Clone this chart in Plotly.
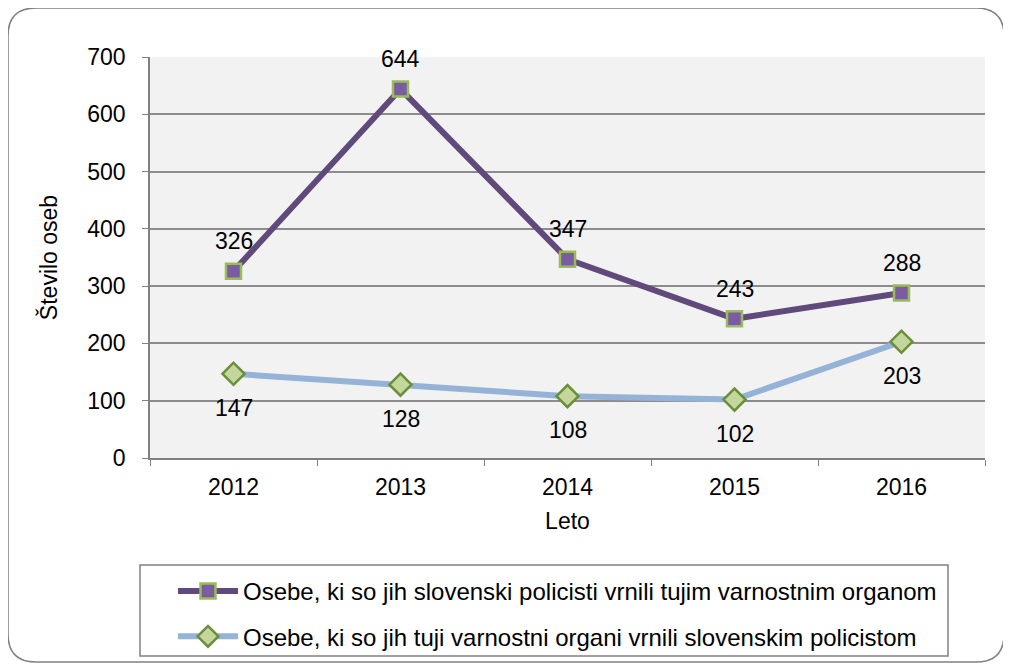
import plotly.graph_objects as go

years = ["2012", "2013", "2014", "2015", "2016"]
vrnili_tujim = [326, 644, 347, 243, 288]
vrnili_slovenskim = [147, 128, 108, 102, 203]

name1 = "Osebe, ki so jih slovenski policisti vrnili tujim varnostnim organom"
name2 = "Osebe, ki so jih tuji varnostni organi vrnili slovenskim policistom"

FS = 23

fig = go.Figure()

fig.add_trace(go.Scatter(
    x=years, y=vrnili_tujim, name=name1, legendgroup="a",
    mode="lines+markers",
    line=dict(color="#604a7b", width=6),
    marker=dict(symbol="square", size=15, color="#7a5ca0",
                line=dict(color="#9bbb59", width=2.5)),
))

fig.add_trace(go.Scatter(
    x=years, y=vrnili_slovenskim, name=name2, legendgroup="b",
    mode="lines+markers",
    line=dict(color="#95b3d7", width=6),
    marker=dict(symbol="diamond", size=17, color="#c3d69b",
                line=dict(color="#6b8e3a", width=2.5)),
))

# data labels: first series above, second below (x as category index)
for i, v in enumerate(vrnili_tujim):
    fig.add_annotation(x=i, y=v, text=str(v), showarrow=False, yshift=30,
                       font=dict(size=FS, color="#000000"))
for i, v in enumerate(vrnili_slovenskim):
    fig.add_annotation(x=i, y=v, text=str(v), showarrow=False, yshift=-34,
                       font=dict(size=FS, color="#000000"))

# reference pixel frame of the plot area (page is shown with an 8px body offset)
L, R, T, B = 150, 985, 57, 458
OFF = 8
def px(x): return (x - L) / (R - L)
def py(y): return (B - y) / (B - T)

x0, x1, y0, y1, r = 8, 1004, 8, 662, 28
path = (f"M {px(x0 + r)},{py(y0)} L {px(x1 - r)},{py(y0)} "
        f"Q {px(x1)},{py(y0)} {px(x1)},{py(y0 + r)} "
        f"L {px(x1)},{py(y1 - r)} Q {px(x1)},{py(y1)} {px(x1 - r)},{py(y1)} "
        f"L {px(x0 + r)},{py(y1)} Q {px(x0)},{py(y1)} {px(x0)},{py(y1 - r)} "
        f"L {px(x0)},{py(y0 + r)} Q {px(x0)},{py(y0)} {px(x0 + r)},{py(y0)} Z")

fig.update_layout(
    width=1011, height=670,
    margin=dict(l=L - OFF, r=1011 - (R - OFF), t=T - OFF, b=670 - (B - OFF)),
    paper_bgcolor="white", plot_bgcolor="#f2f2f2",
    font=dict(family="Liberation Sans, Arial, sans-serif", size=FS, color="#000000"),
    showlegend=True,
    legend=dict(x=px(173), y=py(569), xanchor="left", yanchor="top",
                bgcolor="rgba(0,0,0,0)", borderwidth=0,
                font=dict(size=24), itemwidth=60,
                traceorder="grouped", tracegroupgap=11),
    shapes=[
        dict(type="path", xref="paper", yref="paper", path=path,
             line=dict(color="#808080", width=1.5), layer="below"),
        dict(type="rect", xref="paper", yref="paper",
             x0=px(140), x1=px(948), y0=py(565), y1=py(656),
             line=dict(color="#808080", width=1.5), layer="below"),
    ],
)

fig.update_xaxes(
    type="category", range=[-0.5, 4.5],
    showline=True, linecolor="#808080", linewidth=1.5,
    ticks="outside", tickson="boundaries", ticklen=6, tickcolor="#808080",
    ticklabelstandoff=8,
    showgrid=False,
    title=dict(text="Leto", font=dict(size=FS), standoff=14),
    tickfont=dict(size=FS),
)
fig.update_yaxes(
    range=[0, 700], dtick=100,
    showline=True, linecolor="#808080", linewidth=1.5,
    ticks="outside", ticklen=6, tickcolor="#808080",
    ticklabelstandoff=12,
    showgrid=True, gridcolor="#8c8c8c", gridwidth=1.5,
    zeroline=False,
    title=dict(text="Število oseb", font=dict(size=FS), standoff=23),
    tickfont=dict(size=FS),
)

fig.write_html("out.html")
